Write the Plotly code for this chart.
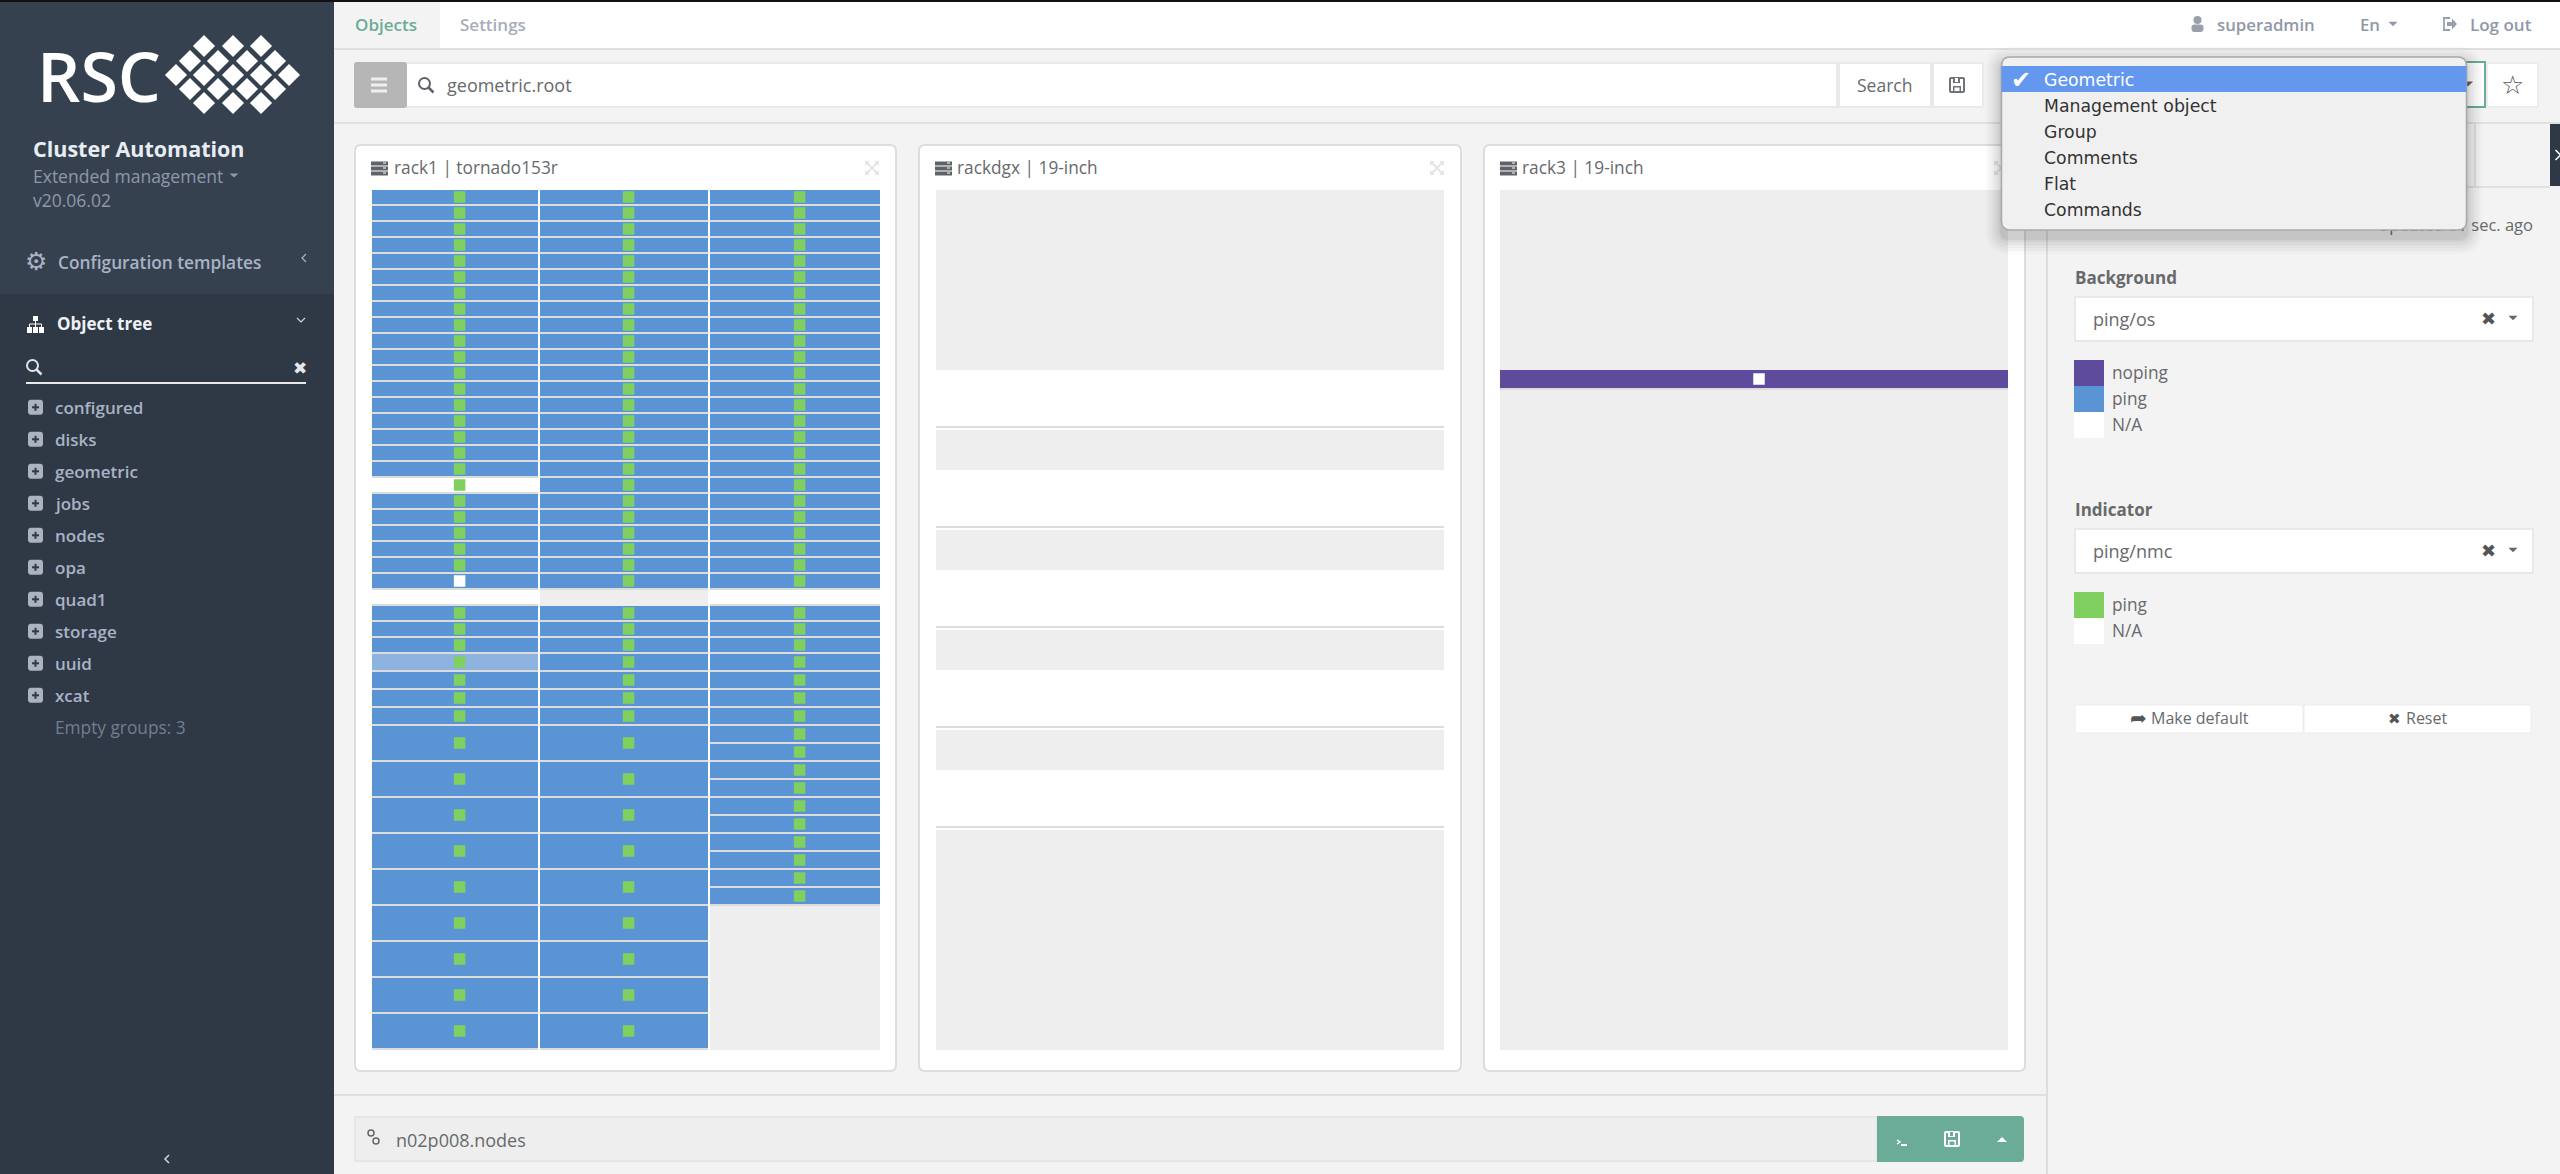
import plotly.graph_objects as go

# ---------- DATA ----------
rack1_upper_sizes = [1] * 29
rack1_upper_col1_bg = ["ping"] * 18 + ["na"] + ["ping"] * 6 + ["na"] + ["ping"] * 3
rack1_upper_col1_ind = ["ping"] * 24 + ["na"] + ["none"] + ["ping"] * 3
rack1_upper_col2_bg = ["ping"] * 25 + ["void"] + ["ping"] * 3
rack1_upper_col2_ind = ["ping"] * 25 + ["none"] + ["ping"] * 3
rack1_upper_col3_bg = ["ping"] * 25 + ["na"] + ["ping"] * 3
rack1_upper_col3_ind = ["ping"] * 25 + ["none"] + ["ping"] * 3

rack1_lower_col1_sizes = [1, 1, 1, 1] + [2] * 9
rack1_lower_col1_bg = ["faded"] + ["ping"] * 12
rack1_lower_col1_ind = ["ping"] * 13
rack1_lower_col2_sizes = [1, 1, 1, 1] + [2] * 9
rack1_lower_col2_bg = ["ping"] * 13
rack1_lower_col2_ind = ["ping"] * 13
rack1_lower_col3_sizes = [1] * 14 + [8]
rack1_lower_col3_bg = ["ping"] * 14 + ["void"]
rack1_lower_col3_ind = ["ping"] * 14 + ["none"]

rackdgx_sizes = [9, 3, 2, 3, 2, 3, 2, 3, 2, 3, 11]
rackdgx_bg = ["void", "na", "void", "na", "void", "na", "void", "na", "void", "na", "void"]
rack3_sizes = [9, 1, 33]
rack3_bg = ["void", "noping", "void"]
rack3_ind = ["none", "na", "none"]

rack_titles = ["rack1 | tornado153r", "rackdgx | 19-inch", "rack3 | 19-inch"]
tree_items = ["configured", "disks", "geometric", "jobs", "nodes", "opa", "quad1", "storage", "uuid", "xcat"]
dropdown_items = ["Geometric", "Management object", "Group", "Comments", "Flat", "Commands"]
background_legend = ["noping", "ping", "N/A"]
indicator_legend = ["ping", "N/A"]

# ---------- STYLE / LAYOUT ----------
W, H = 2560, 1174
OS = "Open Sans"
DJ = "DejaVu Sans"
GREY_TXT = "#676a6c"
NAV = "#8f98a8"
TREE = "#a9b3c6"
GREEN = "#6aac97"
IND_GREEN = "#7fd05e"
LINE = "#e0e0e0"
SEP = "#dcdcdc"
BG_COL = {"ping": "#5b94d5", "noping": "#5e4b9b", "na": "#ffffff", "void": "#eeeeee", "faded": "#8fb3df"}
IND_COL = {"ping": IND_GREEN, "na": "#ffffff"}

shapes, annos = [], []


def rr(x0, y0, x1, y1, r):
    return (f"M{x0+r},{y0} L{x1-r},{y0} Q{x1},{y0} {x1},{y0+r} L{x1},{y1-r} Q{x1},{y1} {x1-r},{y1} "
            f"L{x0+r},{y1} Q{x0},{y1} {x0},{y1-r} L{x0},{y0+r} Q{x0},{y0} {x0+r},{y0} Z")


def rect(x0, y0, x1, y1, fill, line=None, lw=0, layer="below", r=0, opacity=1):
    s = dict(xref="x", yref="y", layer=layer, fillcolor=fill, opacity=opacity,
             line=dict(color=line or "rgba(0,0,0,0)", width=lw))
    if r:
        s.update(type="path", path=rr(x0, y0, x1, y1, r))
    else:
        s.update(type="rect", x0=x0, y0=y0, x1=x1, y1=y1)
    shapes.append(s)


def path(d, fill="rgba(0,0,0,0)", line=None, lw=0, layer="below"):
    shapes.append(dict(type="path", xref="x", yref="y", layer=layer, path=d, fillcolor=fill,
                       line=dict(color=line or "rgba(0,0,0,0)", width=lw)))


def circle(cx, cy, r, fill="rgba(0,0,0,0)", line=None, lw=0, layer="below"):
    shapes.append(dict(type="circle", xref="x", yref="y", layer=layer, x0=cx-r, x1=cx+r, y0=cy-r, y1=cy+r,
                       fillcolor=fill, line=dict(color=line or "rgba(0,0,0,0)", width=lw)))


def t(x, y, s, size=16, color=GREY_TXT, weight=400, anchor="left", family=OS):
    annos.append(dict(x=x, y=y, xref="x", yref="y", text=s, showarrow=False, xanchor=anchor, yanchor="middle",
                      borderpad=0, borderwidth=0, font=dict(family=family, size=size, color=color, weight=weight)))


def caret(cx, cy, w, h, color, layer="below"):
    path(f"M{cx-w/2},{cy-h/2} L{cx+w/2},{cy-h/2} L{cx},{cy+h/2} Z", fill=color, layer=layer)


def chevron(cx, cy, s, direction, color, lw=1.5):
    if direction == "left":
        d = f"M{cx+s/2},{cy-s} L{cx-s/2},{cy} L{cx+s/2},{cy+s}"
    elif direction == "right":
        d = f"M{cx-s/2},{cy-s} L{cx+s/2},{cy} L{cx-s/2},{cy+s}"
    else:
        d = f"M{cx-s},{cy-s/2} L{cx},{cy+s/2} L{cx+s},{cy-s/2}"
    path(d, line=color, lw=lw)


def magnifier(cx, cy, color, lw=2):
    circle(cx-1.5, cy-1.5, 5.5, line=color, lw=lw)
    path(f"M{cx+2.5},{cy+2.5} L{cx+7.5},{cy+7.5}", line=color, lw=lw+0.5)


def server_icon(x, y):
    for dy in (-6, -1, 4):
        rect(x, y+dy, x+17, y+dy+4, "#5f6368")
        rect(x+12, y+dy+1, x+15, y+dy+2, "#ffffff")


def expand_icon(cx, cy, color="#e4e4e4"):
    s = 6
    path(f"M{cx-s},{cy-s} L{cx+s},{cy+s} M{cx+s},{cy-s} L{cx-s},{cy+s}", line=color, lw=2)
    for sx, sy in ((-1, -1), (1, -1), (-1, 1), (1, 1)):
        path(f"M{cx+sx*7},{cy+sy*7} L{cx+sx*2},{cy+sy*7} L{cx+sx*7},{cy+sy*2} Z", fill=color)


def floppy(cx, cy, color, inner):
    rect(cx-8, cy-8, cx+8, cy+8, color, r=2)
    rect(cx-6, cy-6, cx+6, cy+6, inner)
    rect(cx-4, cy-8, cx+3, cy-2, color)
    rect(cx-2, cy-7, cx+1, cy-3, inner)
    rect(cx-4, cy+1, cx+4, cy+8, color)
    rect(cx-2.5, cy+2.5, cx+2.5, cy+6, inner)


# page background
rect(0, 0, W, H, "#f3f3f3")
# top nav
rect(334, 2, W, 48, "#ffffff")
rect(334, 2, 440, 48, "#f3f3f3")
rect(334, 48, W, 50, LINE)
# sidebar
rect(0, 2, 334, 294, "#36414f")
rect(0, 294, 334, H, "#2f3845")
# top black line
rect(0, 0, W, 2, "#111111")

# logo
t(37, 75, "RSC", size=68, color="#ffffff", weight=600)
logo_rows = [(46, [204, 233, 261]), (61, [190, 218, 247, 275]), (75, [176, 204, 233, 261, 289]),
             (89, [190, 218, 247, 275]), (103, [204, 233, 261])]
logo_x = [x for y, xs in logo_rows for x in xs]
logo_y = [y for y, xs in logo_rows for x in xs]

t(33, 148, "Cluster Automation", size=21.5, color="#e8edf3", weight=700)
t(33, 176, "Extended management", size=17.5, color=NAV)
caret(234, 175.5, 9, 4, NAV)
t(33, 200, "v20.06.02", size=17.5, color=NAV)
t(36, 261, "\u2699", size=25, color=TREE, anchor="center", family=DJ)
t(58, 262, "Configuration templates", size=17.3, color=TREE, weight=600)
chevron(304, 258, 4, "left", TREE, 1.2)
# object tree icon
rect(33, 316, 38, 321, "#ffffff")
rect(27, 327, 32, 333, "#ffffff")
rect(33, 327, 38, 333, "#ffffff")
rect(39, 327, 44, 333, "#ffffff")
path("M29.5,327 L29.5,324 L41.5,324 L41.5,327 M35.5,321 L35.5,327", line="#ffffff", lw=1)
t(57, 323, "Object tree", size=17, color="#eef1f5", weight=700)
chevron(301, 320, 4, "down", "#cfd5de", 1.2)
magnifier(34, 367, "#dfe3e8")
t(300, 368, "\u2716", size=17, color="#e6e8eb", anchor="center", family=DJ)
rect(26, 382, 306, 384, "#e8e8e8")
for i, name in enumerate(tree_items):
    y = 407.3 + 32 * i
    rect(28, y-7.5, 43, y+7.5, "#abb3c1", r=3)
    rect(32, y-1, 39, y+1, "#2f3845")
    rect(34.5, y-3.5, 36.5, y+3.5, "#2f3845")
    t(55, y, name, size=17, color=TREE, weight=600)
t(55, 727.7, "Empty groups: 3", size=17.3, color="#717e91", weight=500)
chevron(167, 1159, 4, "left", "#cfd5de", 1.5)

# top tabs and user
t(355, 24, "Objects", size=17, color=GREEN, weight=600)
t(460, 24, "Settings", size=17, color="#a6adba", weight=600)
circle(2197.5, 20, 4, fill="#9aa0aa")
rect(2191.5, 24.5, 2203.5, 32, "#9aa0aa", r=3)
t(2217, 24, "superadmin", size=16.8, color=NAV, weight=600)
t(2360, 24, "En", size=16.8, color=NAV, weight=600)
caret(2393, 24, 9, 4.5, NAV)
path("M2450,18 L2444,18 L2444,30 L2450,30", line="#9aa0aa", lw=1.8)
path("M2447,22 L2452,22 L2452,18.5 L2457,24 L2452,29.5 L2452,26 L2447,26 Z", fill="#9aa0aa")
t(2470, 24, "Log out", size=17, color=NAV, weight=600)

# search bar
rect(354, 62, 1840, 108, "#e9e9e9", r=3)
rect(354, 62, 407, 108, "#b6b6b6", r=3)
for dy in (-6, 0, 6):
    rect(371, 85+dy-1.5, 387, 85+dy+1.5, "#eeeeee")
rect(407, 64, 1836, 106, "#ffffff")
magnifier(426, 85, "#5f6368")
t(447, 85, "geometric.root", size=18, color=GREY_TXT)
rect(1838, 62, 1932, 108, "#e9e9e9")
rect(1840, 64, 1930, 106, "#ffffff")
t(1884, 85, "Search", size=17.5, color=GREY_TXT, anchor="center")
rect(1932, 62, 1984, 108, "#e9e9e9", r=3)
rect(1934, 64, 1982, 106, "#ffffff")
floppy(1957, 85, "#707478", "#ffffff")
rect(334, 122, W, 124, LINE)
# combo behind dropdown + star
rect(2003, 62, 2485, 107, "#ffffff", line=GREEN, lw=2)
caret(2468, 84, 10, 5, "#666666")
rect(2486, 62, 2539, 108, "#ececec", r=3)
rect(2488, 64, 2537, 106, "#ffffff")
t(2512, 85, "\u2606", size=26, color="#555555", anchor="center", family=DJ)

# cards
cards = [(355, 896), (919, 1461), (1484, 2025)]
title_x = [(371, 394), (935, 957), (1500, 1522)]
for (x0, x1), (ix, tx), title in zip(cards, title_x, rack_titles):
    rect(x0, 145, x1, 1071, "#ffffff", line="#dddddd", lw=2, r=6)
    server_icon(ix, 167.5)
    t(tx, 167.5, title, size=17.3, color=GREY_TXT)
    expand_icon(x1-24, 168)

# right panel
rect(2046, 124, 2048, H, "#dddddd")
rect(2048, 186, 2550, 188, LINE)
rect(2474, 124, 2476, 187, LINE)
rect(2550, 124, W, 186, "#2f3845")
chevron(2558, 155, 5, "right", "#ffffff", 1.5)

t(2075, 277, "Background", size=17, color="#676a6c", weight=700)
rect(2075, 297, 2533, 341, "#ffffff", line="#e8e8e8", lw=2)
t(2093, 319, "ping/os", size=18, color=GREY_TXT)
t(2488, 318, "\u2716", size=18, color="#555555", anchor="center", family=DJ)
caret(2513, 318, 9, 4.5, "#666666")
for i, (col, lab) in enumerate(zip(["noping", "ping", "na"], background_legend)):
    y0 = 360 + 26 * i
    rect(2074, y0, 2104, y0+26, BG_COL[col])
    t(2112, y0+12, lab, size=17.3, color=GREY_TXT)

t(2075, 509, "Indicator", size=17, color="#676a6c", weight=700)
rect(2075, 529, 2533, 573, "#ffffff", line="#e8e8e8", lw=2)
t(2093, 551, "ping/nmc", size=18, color=GREY_TXT)
t(2488, 550, "\u2716", size=18, color="#555555", anchor="center", family=DJ)
caret(2513, 550, 9, 4.5, "#666666")
for i, (col, lab) in enumerate(zip(["ping", "na"], indicator_legend)):
    y0 = 592 + 26 * i
    rect(2074, y0, 2104, y0+26, IND_COL[col])
    t(2112, y0+12, lab, size=17.3, color=GREY_TXT)

rect(2075, 705, 2303, 733, "#ffffff", line="#ececec", lw=1)
rect(2304, 705, 2531, 733, "#ffffff", line="#ececec", lw=1)
t(2138, 718, "\u27A6", size=20, color="#555555", anchor="center", family=DJ)
t(2151, 718, "Make default", size=16, color=GREY_TXT)
t(2394, 719, "\u2716", size=15, color="#555555", anchor="center", family=DJ)
t(2406, 718, "Reset", size=16, color=GREY_TXT)

# bottom bar
rect(334, 1094, 2046, 1096, LINE)
rect(355, 1117, 1877, 1161, "#eeeeee", line="#e6e6e6", lw=2)
rect(1877, 1116, 2024, 1162, GREEN, r=4)
rect(1877, 1116, 1888, 1162, GREEN)
circle(371, 1133, 3, line="#666666", lw=1.5)
circle(376, 1141, 3, line="#666666", lw=1.5)
t(396, 1140, "n02p008.nodes", size=18, color=GREY_TXT)
path("M1897,1144 L1900,1142 L1897,1140", line="#ffffff", lw=1.5)
rect(1901, 1144, 1907, 1146, "#ffffff")
floppy(1952, 1139, "#ffffff", GREEN)
path("M1997,1142 L2007,1142 L2002,1137 Z", fill="#ffffff")

# dropdown (sits above everything below it, including the trace-text status line)
dd = (2001.5, 57, 2466.5, 230)
for s, a in ((16, .018), (13, .022), (10, .028), (7, .035), (4, .04), (2, .05)):
    rect(dd[0]-s, dd[1]-s+6, dd[2]+s, dd[3]+s+8, "#000000", layer="above", r=8+s, opacity=a)
rect(dd[0], dd[1], dd[2], dd[3], "#f0f0f0", line="#a9a9a9", lw=1.5, layer="above", r=9)
rect(dd[0], 66, dd[2], 92, "#6498ee", layer="above")
for i, name in enumerate(dropdown_items):
    t(2044, 79.5 + 26 * i, name, size=17.3, color="#ffffff" if i == 0 else "#333333", family=DJ)
t(2021, 80, "\u2714", size=24, color="#ffffff", anchor="center", family=DJ)

# ---------- FIGURE ----------
fig = go.Figure()

# status line and logo: ordinary traces on the page axes
fig.add_trace(go.Scatter(x=[2533], y=[227], mode="text", text=["Updated 01 sec. ago"],
                         textposition="middle left", textfont=dict(family=OS, size=16.5, color=GREY_TXT),
                         hoverinfo="skip", showlegend=False))
fig.add_trace(go.Scatter(x=logo_x, y=logo_y, mode="markers", hoverinfo="skip", showlegend=False,
                         marker=dict(symbol="diamond", size=17, color="#ffffff", line=dict(width=0))))


def draw_column(yaxis, left, width, sizes, bg, ind, gap, line_off=0.0, ind_x=None):
    """Draw one rack column in rack units on the given y axis."""
    rows = {}
    sep_y, start = [], 0
    ix, iy, ic = [], [], []
    for size, b, i in zip(sizes, bg, ind):
        if b == "void":
            rows.setdefault(b, []).append((start + size / 2, size))
        else:
            rows.setdefault(b, []).append((start + (size - gap) / 2, size - gap))
            sep_y.append(start + size - line_off - gap / 2)
        if i != "none":
            ix.append(ind_x)
            iy.append(start + (size - gap) / 2)
            ic.append(IND_COL[i])
        start += size
    for state, vals in rows.items():
        fig.add_trace(go.Bar(y=[v[0] for v in vals], x=[width] * len(vals), base=[left] * len(vals),
                             width=[v[1] for v in vals], orientation="h", yaxis=yaxis, xaxis="x",
                             marker=dict(color=BG_COL[state], line=dict(width=0)),
                             hoverinfo="skip", showlegend=False))
    if sep_y:
        fig.add_trace(go.Bar(y=sep_y, x=[width] * len(sep_y), base=[left] * len(sep_y),
                             width=[gap] * len(sep_y), orientation="h", yaxis=yaxis, xaxis="x",
                             marker=dict(color=SEP, line=dict(width=0)),
                             hoverinfo="skip", showlegend=False))
    if ix:
        fig.add_trace(go.Scatter(x=ix, y=iy, mode="markers", yaxis=yaxis, xaxis="x",
                                 marker=dict(symbol="square", size=11.5, color=ic, line=dict(width=0)),
                                 hoverinfo="skip", showlegend=False))


COL_L = [372, 540, 710]
COL_W = [166, 168, 170]
IND_X = [459.6, 628.6, 799.6]
upper = [(rack1_upper_col1_bg, rack1_upper_col1_ind), (rack1_upper_col2_bg, rack1_upper_col2_ind),
         (rack1_upper_col3_bg, rack1_upper_col3_ind)]
lower = [(rack1_lower_col1_sizes, rack1_lower_col1_bg, rack1_lower_col1_ind),
         (rack1_lower_col2_sizes, rack1_lower_col2_bg, rack1_lower_col2_ind),
         (rack1_lower_col3_sizes, rack1_lower_col3_bg, rack1_lower_col3_ind)]
for k in range(3):
    draw_column("y2", COL_L[k], COL_W[k], rack1_upper_sizes, upper[k][0], upper[k][1], 2 / 16, ind_x=IND_X[k])
    draw_column("y3", COL_L[k], COL_W[k], lower[k][0], lower[k][1], lower[k][2], 2 / 18, ind_x=IND_X[k])
draw_column("y4", 936, 508, rackdgx_sizes, rackdgx_bg, ["none"] * len(rackdgx_sizes), 0.1, line_off=0.1)
draw_column("y4", 1500, 508, rack3_sizes, rack3_bg, rack3_ind, 0.1, ind_x=1759)


def dom(a, b):
    return [1 - b / H, 1 - a / H]


hidden = dict(visible=False, fixedrange=True)
fig.update_layout(
    width=W, height=H, margin=dict(l=0, r=0, t=0, b=0), paper_bgcolor="#f3f3f3", plot_bgcolor="rgba(0,0,0,0)",
    barmode="overlay", bargap=0, showlegend=False, shapes=shapes, annotations=annos,
    xaxis=dict(range=[0, W], domain=[0, 1], **hidden),
    yaxis=dict(range=[H, 0], domain=[0, 1], **hidden),
    yaxis2=dict(range=[29, 0], domain=dom(190, 654), anchor="x", **hidden),
    yaxis3=dict(range=[22, 0], domain=dom(654, 1050), anchor="x", **hidden),
    yaxis4=dict(range=[43, 0], domain=dom(190, 1050), anchor="x", **hidden),
)
fig.write_html("out.html", config=dict(displayModeBar=False),
               post_script="document.body.style.margin='0';document.body.style.overflow='hidden';")
